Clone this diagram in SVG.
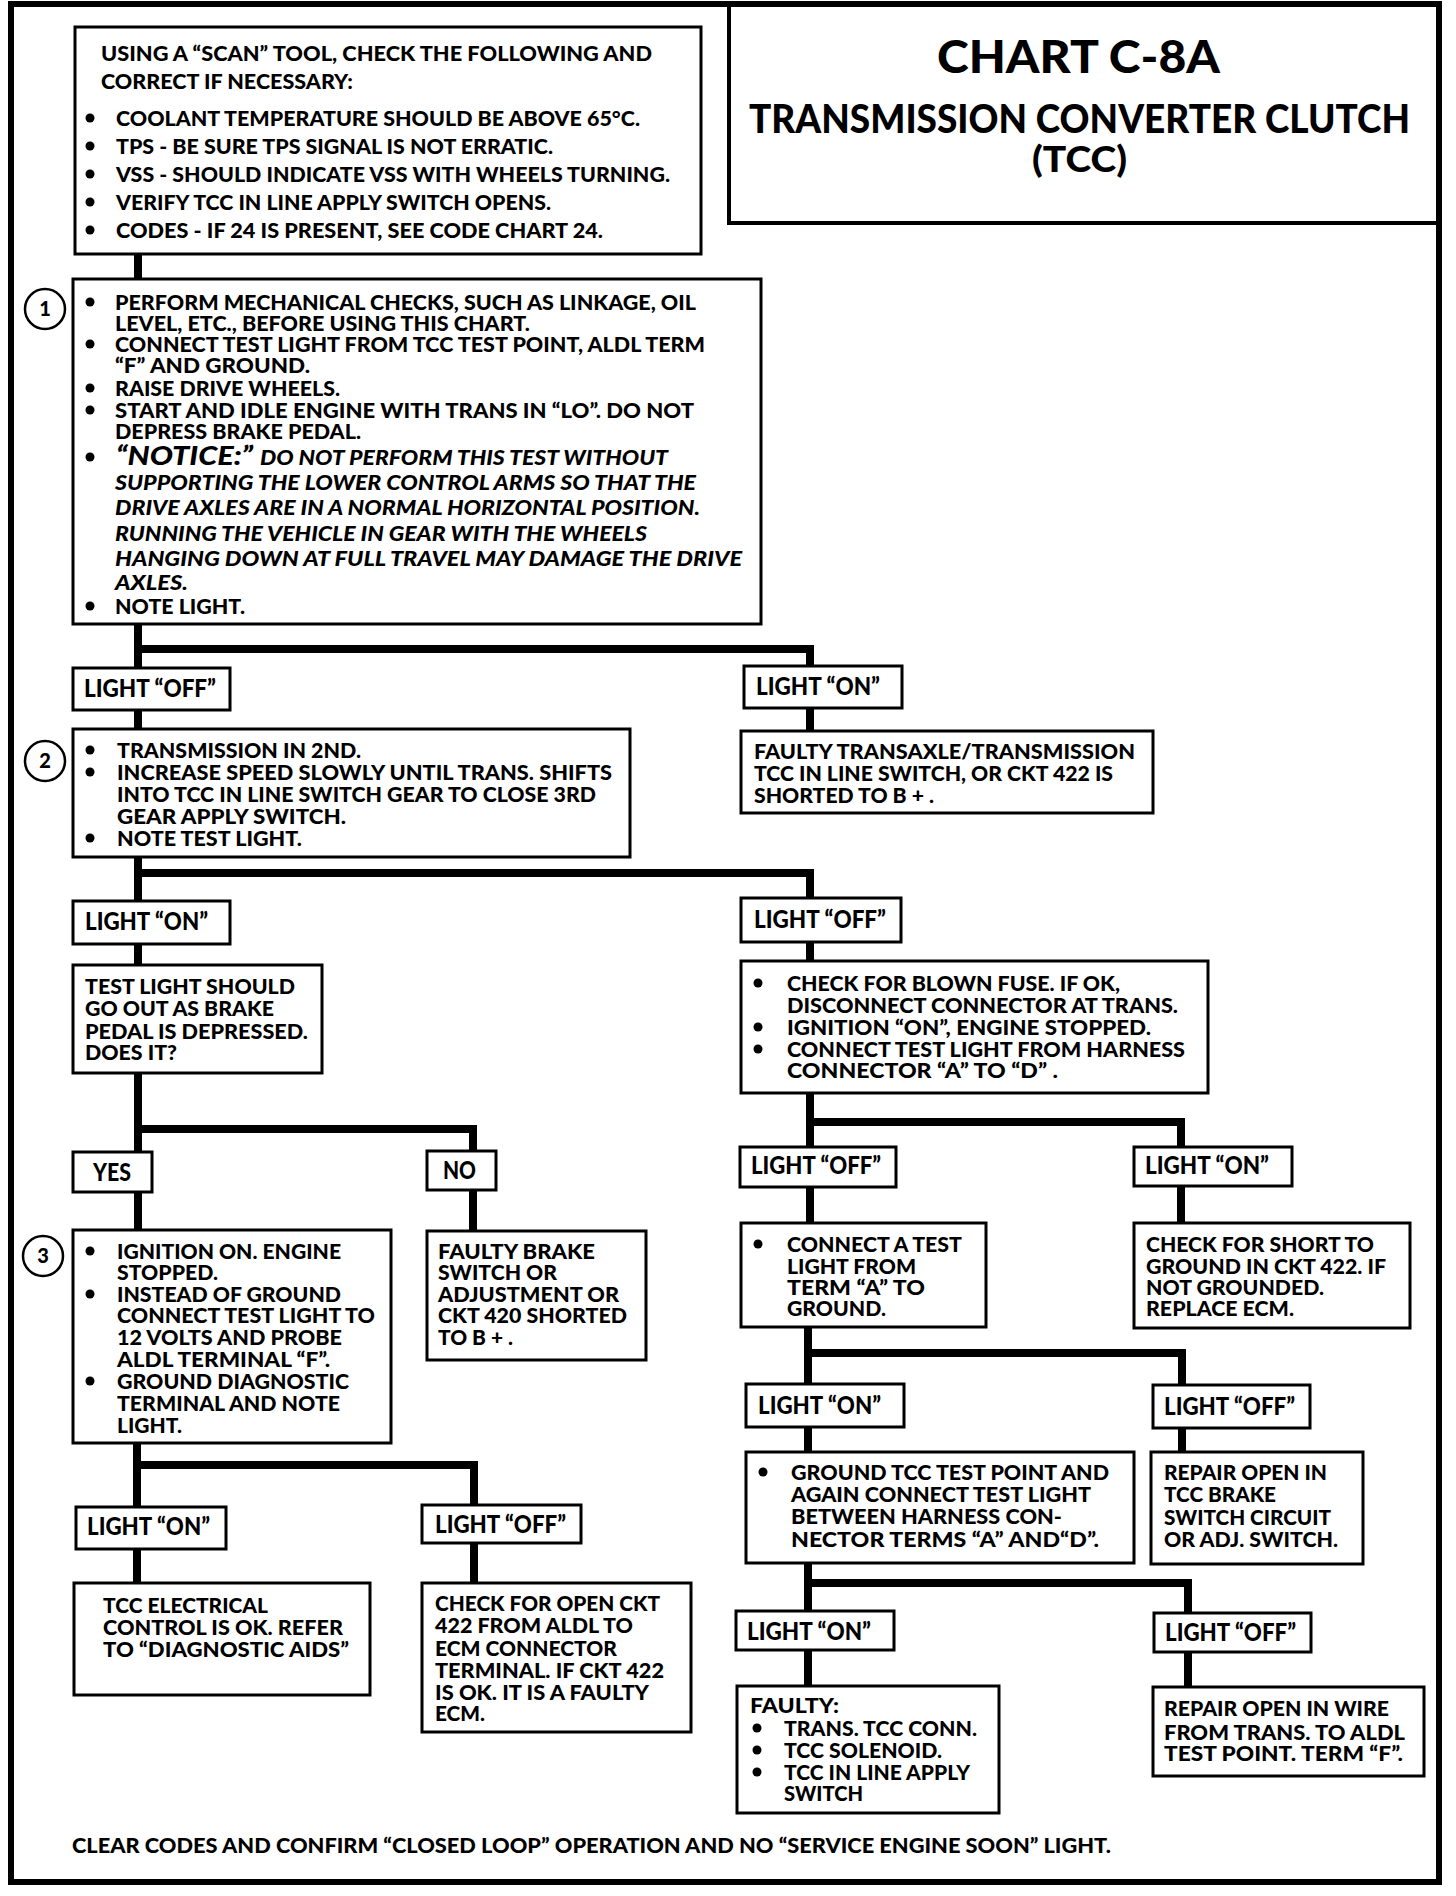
<svg xmlns="http://www.w3.org/2000/svg" width="1456" height="1896" viewBox="0 0 1456 1896">
<style>
text{font-family:Lato,"Open Sans","Liberation Sans",sans-serif;font-weight:900;font-size:20.5px;fill:#000}
.lb{font-size:24px}
.it{font-style:italic}
.nt{font-style:italic;font-size:26px}
.box{fill:#fff;stroke:#000;stroke-width:3}
.conn{stroke:#000;stroke-width:8;fill:none;stroke-linecap:square}
.num{fill:#fff;stroke:#000;stroke-width:2.5}
.ctr{text-anchor:middle;font-size:20px}
</style>
<rect width="1456" height="1896" fill="#fff"/>
<rect x="11" y="4" width="1428" height="1878" fill="none" stroke="#000" stroke-width="6"/>

<g id="title">
<rect x="729" y="5" width="710" height="218" fill="none" stroke="#000" stroke-width="4"/>
<text x="937" y="73" style="font-size:46px" textLength="283" lengthAdjust="spacingAndGlyphs">CHART C-8A</text>
<text x="749" y="133" style="font-size:39px" textLength="661" lengthAdjust="spacingAndGlyphs">TRANSMISSION CONVERTER CLUTCH</text>
<text x="1032" y="172" style="font-size:36px" textLength="95" lengthAdjust="spacingAndGlyphs">(TCC)</text>
</g>

<g id="connectors">
<path class="conn" d="M138 254V279"/>
<path class="conn" d="M138 624V668M138 649H810V666"/>
<path class="conn" d="M138 710V729"/>
<path class="conn" d="M810 707V731"/>
<path class="conn" d="M138 857V901M138 873H810V898"/>
<path class="conn" d="M138 944V965"/>
<path class="conn" d="M810 942V961"/>
<path class="conn" d="M138 1073V1152M138 1129H473V1151"/>
<path class="conn" d="M138 1192V1230"/>
<path class="conn" d="M473 1190V1231"/>
<path class="conn" d="M137 1443V1507M137 1465H474V1505"/>
<path class="conn" d="M137 1549V1583"/>
<path class="conn" d="M474 1543V1583"/>
<path class="conn" d="M810 1093V1147M810 1122H1181V1147"/>
<path class="conn" d="M810 1187V1223"/>
<path class="conn" d="M1181 1186V1223"/>
<path class="conn" d="M808 1327V1384M808 1353H1182V1385"/>
<path class="conn" d="M808 1427V1452"/>
<path class="conn" d="M1182 1428V1452"/>
<path class="conn" d="M808 1563V1611M808 1583H1188V1613"/>
<path class="conn" d="M808 1650V1686"/>
<path class="conn" d="M1188 1652V1687"/>
</g>

<g id="scan-check">
<rect class="box" x="75" y="27" width="626" height="227"/>
<text x="101" y="61" textLength="551" lengthAdjust="spacingAndGlyphs">USING A “SCAN” TOOL, CHECK THE FOLLOWING AND</text>
<text x="101" y="89" textLength="252" lengthAdjust="spacingAndGlyphs">CORRECT IF NECESSARY:</text>
<circle cx="90" cy="118" r="4.5"/><text x="116" y="126" textLength="524" lengthAdjust="spacingAndGlyphs">COOLANT TEMPERATURE SHOULD BE ABOVE 65°C.</text>
<circle cx="90" cy="146" r="4.5"/><text x="116" y="154" textLength="437" lengthAdjust="spacingAndGlyphs">TPS - BE SURE TPS SIGNAL IS NOT ERRATIC.</text>
<circle cx="90" cy="174" r="4.5"/><text x="116" y="182" textLength="554" lengthAdjust="spacingAndGlyphs">VSS - SHOULD INDICATE VSS WITH WHEELS TURNING.</text>
<circle cx="90" cy="202" r="4.5"/><text x="116" y="210" textLength="435" lengthAdjust="spacingAndGlyphs">VERIFY TCC IN LINE APPLY SWITCH OPENS.</text>
<circle cx="90" cy="230" r="4.5"/><text x="116" y="238" textLength="487" lengthAdjust="spacingAndGlyphs">CODES - IF 24 IS PRESENT, SEE CODE  CHART 24.</text>
</g>

<g id="step1">
<circle class="num" cx="45" cy="309" r="20"/><text class="ctr" x="45" y="316">1</text>
<rect class="box" x="73" y="279" width="688" height="345"/>
<circle cx="90" cy="302" r="4.5"/><text x="115" y="310" textLength="581" lengthAdjust="spacingAndGlyphs">PERFORM MECHANICAL CHECKS, SUCH AS LINKAGE, OIL</text>
<text x="115" y="331" textLength="415" lengthAdjust="spacingAndGlyphs">LEVEL, ETC., BEFORE USING THIS CHART.</text>
<circle cx="90" cy="344" r="4.5"/><text x="115" y="352" textLength="590" lengthAdjust="spacingAndGlyphs">CONNECT TEST LIGHT FROM TCC TEST POINT, ALDL TERM</text>
<text x="115" y="373" textLength="195" lengthAdjust="spacingAndGlyphs">“F” AND GROUND.</text>
<circle cx="90" cy="388" r="4.5"/><text x="115" y="396" textLength="225" lengthAdjust="spacingAndGlyphs">RAISE DRIVE WHEELS.</text>
<circle cx="90" cy="410" r="4.5"/><text x="115" y="418" textLength="579" lengthAdjust="spacingAndGlyphs">START AND IDLE ENGINE WITH TRANS IN “LO”.  DO NOT</text>
<text x="115" y="439" textLength="246" lengthAdjust="spacingAndGlyphs">DEPRESS BRAKE PEDAL.</text>
<circle cx="90" cy="457" r="4.5"/><text class="nt" x="116" y="465" textLength="137" lengthAdjust="spacingAndGlyphs">“NOTICE:”</text>
<text class="it" x="260" y="465" textLength="408" lengthAdjust="spacingAndGlyphs">DO NOT PERFORM THIS TEST WITHOUT</text>
<text class="it" x="115" y="490" textLength="581" lengthAdjust="spacingAndGlyphs">SUPPORTING THE LOWER CONTROL ARMS SO THAT THE</text>
<text class="it" x="115" y="515" textLength="585" lengthAdjust="spacingAndGlyphs">DRIVE AXLES ARE IN A NORMAL HORIZONTAL POSITION.</text>
<text class="it" x="115" y="541" textLength="532" lengthAdjust="spacingAndGlyphs">RUNNING THE  VEHICLE IN GEAR WITH THE WHEELS</text>
<text class="it" x="115" y="566" textLength="627" lengthAdjust="spacingAndGlyphs">HANGING DOWN AT FULL TRAVEL MAY DAMAGE THE DRIVE</text>
<text class="it" x="115" y="590" textLength="73" lengthAdjust="spacingAndGlyphs">AXLES.</text>
<circle cx="90" cy="606" r="4.5"/><text x="115" y="614" textLength="130" lengthAdjust="spacingAndGlyphs">NOTE LIGHT.</text>
</g>

<g id="l1-off">
<rect class="box" x="73" y="668" width="157" height="42"/>
<text class="lb" x="84" y="697" textLength="132" lengthAdjust="spacingAndGlyphs">LIGHT “OFF”</text>
</g>
<g id="l1-on">
<rect class="box" x="744" y="666" width="158" height="42"/>
<text class="lb" x="756" y="695" textLength="124" lengthAdjust="spacingAndGlyphs">LIGHT “ON”</text>
</g>
<g id="faulty-transaxle">
<rect class="box" x="741" y="731" width="412" height="82"/>
<text x="754" y="759" textLength="381" lengthAdjust="spacingAndGlyphs">FAULTY TRANSAXLE/TRANSMISSION</text>
<text x="754" y="781" textLength="359" lengthAdjust="spacingAndGlyphs">TCC IN LINE SWITCH, OR CKT 422 IS</text>
<text x="754" y="803" textLength="180" lengthAdjust="spacingAndGlyphs">SHORTED TO B + .</text>
</g>

<g id="step2">
<circle class="num" cx="45" cy="761" r="20"/><text class="ctr" x="45" y="768">2</text>
<rect class="box" x="73" y="729" width="557" height="128"/>
<circle cx="90" cy="750" r="4.5"/><text x="117" y="758" textLength="244" lengthAdjust="spacingAndGlyphs">TRANSMISSION IN 2ND.</text>
<circle cx="90" cy="772" r="4.5"/><text x="117" y="780" textLength="495" lengthAdjust="spacingAndGlyphs">INCREASE SPEED SLOWLY UNTIL TRANS. SHIFTS</text>
<text x="117" y="802" textLength="479" lengthAdjust="spacingAndGlyphs">INTO TCC IN LINE SWITCH GEAR TO CLOSE 3RD</text>
<text x="117" y="824" textLength="229" lengthAdjust="spacingAndGlyphs">GEAR  APPLY SWITCH.</text>
<circle cx="90" cy="838" r="4.5"/><text x="117" y="846" textLength="185" lengthAdjust="spacingAndGlyphs">NOTE TEST LIGHT.</text>
</g>

<g id="l2-on">
<rect class="box" x="73" y="901" width="157" height="43"/>
<text class="lb" x="85" y="930" textLength="123" lengthAdjust="spacingAndGlyphs">LIGHT “ON”</text>
</g>
<g id="l2-off">
<rect class="box" x="741" y="898" width="160" height="44"/>
<text class="lb" x="754" y="928" textLength="132" lengthAdjust="spacingAndGlyphs">LIGHT “OFF”</text>
</g>

<g id="test-light">
<rect class="box" x="73" y="965" width="249" height="108"/>
<text x="85" y="994" textLength="210" lengthAdjust="spacingAndGlyphs">TEST LIGHT SHOULD</text>
<text x="85" y="1016" textLength="189" lengthAdjust="spacingAndGlyphs">GO OUT AS BRAKE</text>
<text x="85" y="1039" textLength="223" lengthAdjust="spacingAndGlyphs">PEDAL IS DEPRESSED.</text>
<text x="85" y="1060" textLength="92" lengthAdjust="spacingAndGlyphs">DOES IT?</text>
</g>

<g id="blown-fuse">
<rect class="box" x="741" y="961" width="467" height="132"/>
<circle cx="758" cy="983" r="4.5"/><text x="787" y="991" textLength="333" lengthAdjust="spacingAndGlyphs">CHECK FOR BLOWN FUSE. IF OK,</text>
<text x="787" y="1013" textLength="391" lengthAdjust="spacingAndGlyphs">DISCONNECT CONNECTOR AT TRANS.</text>
<circle cx="758" cy="1027" r="4.5"/><text x="787" y="1035" textLength="364" lengthAdjust="spacingAndGlyphs">IGNITION “ON”,  ENGINE STOPPED.</text>
<circle cx="758" cy="1049" r="4.5"/><text x="787" y="1057" textLength="398" lengthAdjust="spacingAndGlyphs">CONNECT TEST LIGHT FROM HARNESS</text>
<text x="787" y="1078" textLength="271" lengthAdjust="spacingAndGlyphs">CONNECTOR “A” TO “D” .</text>
</g>

<g id="yes">
<rect class="box" x="73" y="1152" width="79" height="40"/>
<text class="lb" x="93" y="1181" textLength="38" lengthAdjust="spacingAndGlyphs">YES</text>
</g>
<g id="no">
<rect class="box" x="427" y="1151" width="69" height="39"/>
<text class="lb" x="443" y="1179" textLength="33" lengthAdjust="spacingAndGlyphs">NO</text>
</g>

<g id="step3">
<circle class="num" cx="43" cy="1256" r="20"/><text class="ctr" x="43" y="1263">3</text>
<rect class="box" x="73" y="1230" width="318" height="213"/>
<circle cx="90" cy="1251" r="4.5"/><text x="117" y="1259" textLength="224" lengthAdjust="spacingAndGlyphs">IGNITION ON. ENGINE</text>
<text x="117" y="1280" textLength="101" lengthAdjust="spacingAndGlyphs">STOPPED.</text>
<circle cx="90" cy="1294" r="4.5"/><text x="117" y="1302" textLength="224" lengthAdjust="spacingAndGlyphs">INSTEAD OF GROUND</text>
<text x="117" y="1323" textLength="258" lengthAdjust="spacingAndGlyphs">CONNECT TEST LIGHT TO</text>
<text x="117" y="1345" textLength="225" lengthAdjust="spacingAndGlyphs">12 VOLTS AND PROBE</text>
<text x="117" y="1367" textLength="213" lengthAdjust="spacingAndGlyphs">ALDL TERMINAL “F”.</text>
<circle cx="90" cy="1381" r="4.5"/><text x="117" y="1389" textLength="232" lengthAdjust="spacingAndGlyphs">GROUND DIAGNOSTIC</text>
<text x="117" y="1411" textLength="223" lengthAdjust="spacingAndGlyphs">TERMINAL AND NOTE</text>
<text x="117" y="1433" textLength="65" lengthAdjust="spacingAndGlyphs">LIGHT.</text>
</g>

<g id="faulty-brake">
<rect class="box" x="427" y="1231" width="219" height="129"/>
<text x="438" y="1259" textLength="157" lengthAdjust="spacingAndGlyphs">FAULTY BRAKE</text>
<text x="438" y="1280" textLength="119" lengthAdjust="spacingAndGlyphs">SWITCH OR</text>
<text x="438" y="1302" textLength="181" lengthAdjust="spacingAndGlyphs">ADJUSTMENT OR</text>
<text x="438" y="1323" textLength="189" lengthAdjust="spacingAndGlyphs">CKT 420 SHORTED</text>
<text x="438" y="1345" textLength="75" lengthAdjust="spacingAndGlyphs">TO B + .</text>
</g>

<g id="l3-off-a">
<rect class="box" x="740" y="1147" width="156" height="40"/>
<text class="lb" x="751" y="1174" textLength="130" lengthAdjust="spacingAndGlyphs">LIGHT “OFF”</text>
</g>
<g id="l3-on-a">
<rect class="box" x="1134" y="1147" width="158" height="39"/>
<text class="lb" x="1145" y="1174" textLength="124" lengthAdjust="spacingAndGlyphs">LIGHT “ON”</text>
</g>

<g id="connect-a">
<rect class="box" x="741" y="1223" width="245" height="104"/>
<circle cx="758" cy="1244" r="4.5"/><text x="787" y="1252" textLength="175" lengthAdjust="spacingAndGlyphs">CONNECT A TEST</text>
<text x="787" y="1274" textLength="129" lengthAdjust="spacingAndGlyphs">LIGHT FROM</text>
<text x="787" y="1295" textLength="138" lengthAdjust="spacingAndGlyphs">TERM “A” TO</text>
<text x="787" y="1316" textLength="99" lengthAdjust="spacingAndGlyphs">GROUND.</text>
</g>

<g id="check-short">
<rect class="box" x="1134" y="1223" width="276" height="105"/>
<text x="1146" y="1252" textLength="228" lengthAdjust="spacingAndGlyphs">CHECK FOR SHORT TO</text>
<text x="1146" y="1274" textLength="240" lengthAdjust="spacingAndGlyphs">GROUND IN CKT 422. IF</text>
<text x="1146" y="1295" textLength="178" lengthAdjust="spacingAndGlyphs">NOT GROUNDED.</text>
<text x="1146" y="1316" textLength="148" lengthAdjust="spacingAndGlyphs">REPLACE ECM.</text>
</g>

<g id="l3-on-b">
<rect class="box" x="76" y="1507" width="150" height="42"/>
<text class="lb" x="87" y="1535" textLength="123" lengthAdjust="spacingAndGlyphs">LIGHT “ON”</text>
</g>
<g id="l3-off-b">
<rect class="box" x="422" y="1505" width="159" height="38"/>
<text class="lb" x="435" y="1533" textLength="131" lengthAdjust="spacingAndGlyphs">LIGHT “OFF”</text>
</g>

<g id="tcc-ok">
<rect class="box" x="74" y="1583" width="296" height="112"/>
<text x="103" y="1613" textLength="165" lengthAdjust="spacingAndGlyphs">TCC ELECTRICAL</text>
<text x="103" y="1635" textLength="240" lengthAdjust="spacingAndGlyphs">CONTROL IS OK.  REFER</text>
<text x="103" y="1657" textLength="246" lengthAdjust="spacingAndGlyphs">TO “DIAGNOSTIC AIDS”</text>
</g>

<g id="check-open">
<rect class="box" x="422" y="1583" width="269" height="149"/>
<text x="435" y="1611" textLength="225" lengthAdjust="spacingAndGlyphs">CHECK FOR OPEN CKT</text>
<text x="435" y="1633" textLength="198" lengthAdjust="spacingAndGlyphs">422 FROM ALDL TO</text>
<text x="435" y="1656" textLength="182" lengthAdjust="spacingAndGlyphs">ECM CONNECTOR</text>
<text x="435" y="1678" textLength="229" lengthAdjust="spacingAndGlyphs">TERMINAL.  IF CKT 422</text>
<text x="435" y="1700" textLength="214" lengthAdjust="spacingAndGlyphs">IS OK. IT IS A FAULTY</text>
<text x="435" y="1721" textLength="50" lengthAdjust="spacingAndGlyphs">ECM.</text>
</g>

<g id="l4-on">
<rect class="box" x="746" y="1384" width="158" height="43"/>
<text class="lb" x="758" y="1414" textLength="123" lengthAdjust="spacingAndGlyphs">LIGHT “ON”</text>
</g>
<g id="l4-off">
<rect class="box" x="1153" y="1385" width="157" height="43"/>
<text class="lb" x="1164" y="1415" textLength="131" lengthAdjust="spacingAndGlyphs">LIGHT “OFF”</text>
</g>

<g id="ground-tcc">
<rect class="box" x="746" y="1452" width="388" height="111"/>
<circle cx="763" cy="1472" r="4.5"/><text x="791" y="1480" textLength="318" lengthAdjust="spacingAndGlyphs">GROUND TCC TEST POINT AND</text>
<text x="791" y="1502" textLength="300" lengthAdjust="spacingAndGlyphs">AGAIN CONNECT TEST LIGHT</text>
<text x="791" y="1524" textLength="271" lengthAdjust="spacingAndGlyphs">BETWEEN  HARNESS CON-</text>
<text x="791" y="1547" textLength="308" lengthAdjust="spacingAndGlyphs">NECTOR TERMS “A” AND“D”.</text>
</g>

<g id="repair-brake">
<rect class="box" x="1151" y="1452" width="212" height="112"/>
<text x="1164" y="1480" textLength="163" lengthAdjust="spacingAndGlyphs">REPAIR OPEN IN</text>
<text x="1164" y="1502" textLength="112" lengthAdjust="spacingAndGlyphs">TCC BRAKE</text>
<text x="1164" y="1525" textLength="167" lengthAdjust="spacingAndGlyphs">SWITCH CIRCUIT</text>
<text x="1164" y="1547" textLength="174" lengthAdjust="spacingAndGlyphs">OR ADJ. SWITCH.</text>
</g>

<g id="l5-on">
<rect class="box" x="736" y="1611" width="158" height="39"/>
<text class="lb" x="747" y="1640" textLength="124" lengthAdjust="spacingAndGlyphs">LIGHT “ON”</text>
</g>
<g id="l5-off">
<rect class="box" x="1154" y="1613" width="157" height="39"/>
<text class="lb" x="1165" y="1641" textLength="131" lengthAdjust="spacingAndGlyphs">LIGHT “OFF”</text>
</g>

<g id="faulty-parts">
<rect class="box" x="737" y="1686" width="262" height="127"/>
<text x="750" y="1713" textLength="89" lengthAdjust="spacingAndGlyphs">FAULTY:</text>
<circle cx="757" cy="1728" r="4.5"/><text x="784" y="1736" textLength="193" lengthAdjust="spacingAndGlyphs">TRANS. TCC CONN.</text>
<circle cx="757" cy="1750" r="4.5"/><text x="784" y="1758" textLength="158" lengthAdjust="spacingAndGlyphs">TCC SOLENOID.</text>
<circle cx="757" cy="1772" r="4.5"/><text x="784" y="1780" textLength="186" lengthAdjust="spacingAndGlyphs">TCC IN LINE APPLY</text>
<text x="784" y="1801" textLength="79" lengthAdjust="spacingAndGlyphs">SWITCH</text>
</g>

<g id="repair-wire">
<rect class="box" x="1153" y="1687" width="271" height="89"/>
<text x="1164" y="1716" textLength="225" lengthAdjust="spacingAndGlyphs">REPAIR OPEN IN WIRE</text>
<text x="1164" y="1740" textLength="241" lengthAdjust="spacingAndGlyphs">FROM TRANS. TO ALDL</text>
<text x="1164" y="1761" textLength="239" lengthAdjust="spacingAndGlyphs">TEST POINT. TERM “F”.</text>
</g>

<g id="footer">
<text x="72" y="1853" textLength="1039" lengthAdjust="spacingAndGlyphs">CLEAR CODES AND CONFIRM “CLOSED LOOP” OPERATION AND NO “SERVICE ENGINE SOON” LIGHT.</text>
</g>
</svg>
